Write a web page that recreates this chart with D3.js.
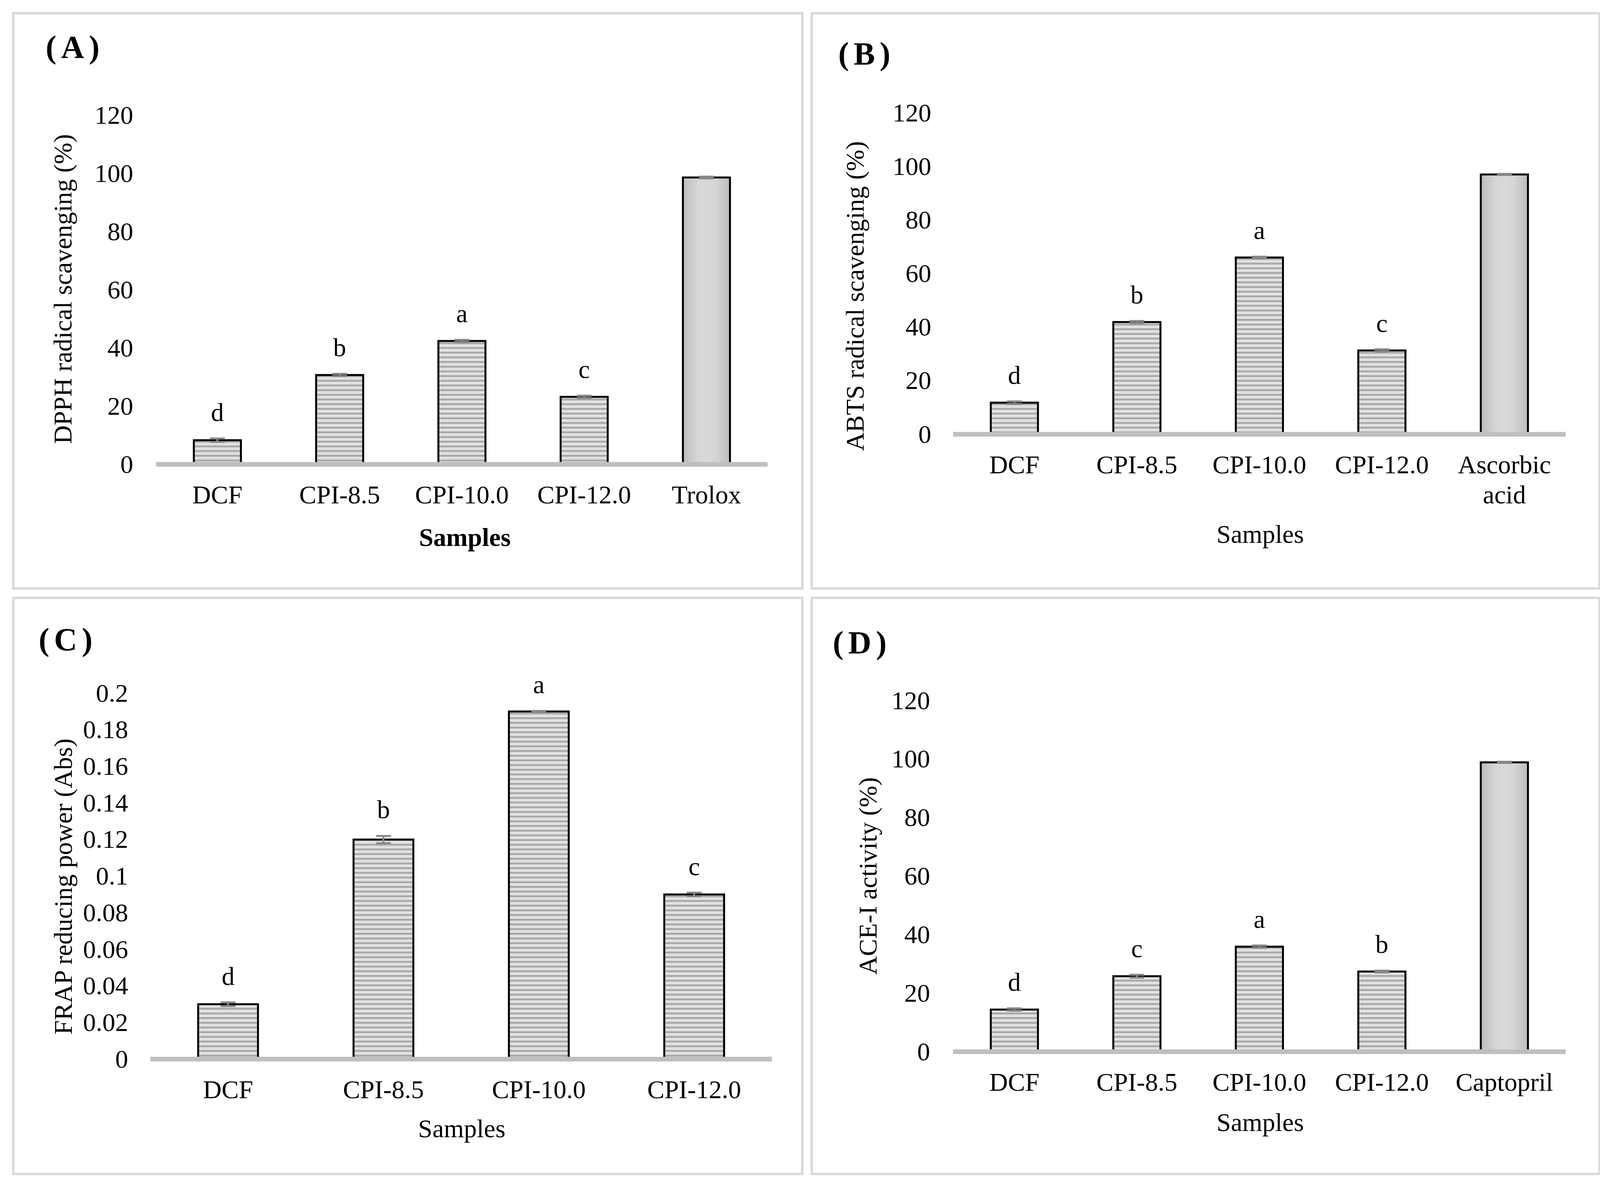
<!DOCTYPE html>
<html>
<head>
<meta charset="utf-8">
<script src="https://cdn.jsdelivr.net/npm/d3@7"></script>
<style>
  body { margin: 0; background: #fff; }
  text { font-family: "Liberation Serif", "Times New Roman", serif; fill: #000; }
</style>
</head>
<body>
<svg id="fig" width="4124" height="3042"></svg>
<script>
// ---- data ----
const samples5A = ["DCF", "CPI-8.5", "CPI-10.0", "CPI-12.0", "Trolox"];
const samples5B = ["DCF", "CPI-8.5", "CPI-10.0", "CPI-12.0", "Ascorbic acid"];
const samples4C = ["DCF", "CPI-8.5", "CPI-10.0", "CPI-12.0"];
const samples5D = ["DCF", "CPI-8.5", "CPI-10.0", "CPI-12.0", "Captopril"];
const standards = ["Trolox", "Ascorbic acid", "Captopril"];

const dpphValues = [8.3, 30.7, 42.4, 23.2, 98.6];
const dpphErrors = [0.6, 0.4, 0.4, 0.4, 0.3];
const dpphLetters = ["d", "b", "a", "c", ""];

const abtsValues = [11.8, 41.9, 66.0, 31.3, 97.0];
const abtsErrors = [0.5, 0.4, 0.3, 0.4, 0.2];
const abtsLetters = ["d", "b", "a", "c", ""];

const frapValues = [0.030, 0.120, 0.190, 0.090];
const frapErrors = [0.001, 0.002, 0.0003, 0.001];
const frapLetters = ["d", "b", "a", "c"];

const aceValues = [14.4, 25.8, 35.9, 27.4, 98.9];
const aceErrors = [0.4, 0.5, 0.4, 0.3, 0.2];
const aceLetters = ["d", "c", "a", "b", ""];

const pctTicks = [0, 20, 40, 60, 80, 100, 120];
const frapTicks = [0, 0.02, 0.04, 0.06, 0.08, 0.1, 0.12, 0.14, 0.16, 0.18, 0.2];

// ---- layout ----
const FS = 66;
const panels = [
  { tag: "(A)", cats: samples5A, vals: dpphValues, errs: dpphErrors, letters: dpphLetters,
    ticks: pctTicks, yTitle: "DPPH radical scavenging (%)", boldX: true,
    box: [34, 34, 2020, 1473], tagPos: [117, 148], xr: [400, 1965], yr: [1189, 295],
    pad: 59, yTitlePos: [183, 740], xTitlePos: [1190, 1398] },
  { tag: "(B)", cats: samples5B, vals: abtsValues, errs: abtsErrors, letters: abtsLetters,
    ticks: pctTicks, yTitle: "ABTS radical scavenging (%)", boldX: false,
    box: [2078, 34, 2017, 1473], tagPos: [2146, 165], xr: [2440, 4008], yr: [1112, 289],
    pad: 56, yTitlePos: [2211, 758], xTitlePos: [3226, 1390] },
  { tag: "(C)", cats: samples4C, vals: frapValues, errs: frapErrors, letters: frapLetters,
    ticks: frapTicks, yTitle: "FRAP reducing power (Abs)", boldX: false,
    box: [34, 1531, 2020, 1475], tagPos: [99, 1665], xr: [385, 1976], yr: [2712, 1775],
    pad: 57, yTitlePos: [184, 2270], xTitlePos: [1182, 2912] },
  { tag: "(D)", cats: samples5D, vals: aceValues, errs: aceErrors, letters: aceLetters,
    ticks: pctTicks, yTitle: "ACE-I activity (%)", boldX: false,
    box: [2078, 1531, 2017, 1475], tagPos: [2132, 1673], xr: [2440, 4008], yr: [2693, 1794],
    pad: 59, yTitlePos: [2244, 2243], xTitlePos: [3226, 2896] }
];

const svg = d3.select("#fig");
svg.append("rect").attr("width", 4124).attr("height", 3042).attr("fill", "#fff");
const defs = svg.append("defs");

// narrow horizontal stripe fill
const pat = defs.append("pattern").attr("id", "stripes")
  .attr("patternUnits", "userSpaceOnUse").attr("width", 12).attr("height", 12);
pat.append("rect").attr("width", 12).attr("height", 12).attr("fill", "#e2e2e2");
pat.append("rect").attr("y", 0).attr("width", 12).attr("height", 1).attr("fill", "#c6c6c6");
pat.append("rect").attr("y", 1).attr("width", 12).attr("height", 4).attr("fill", "#a9a9a9");
pat.append("rect").attr("y", 5).attr("width", 12).attr("height", 1).attr("fill", "#c6c6c6");

// shaded solid fill for standards
const grad = defs.append("linearGradient").attr("id", "solid")
  .attr("x1", 0).attr("x2", 1).attr("y1", 0).attr("y2", 0);
[["0%", "#bcbcbc"], ["30%", "#d5d5d5"], ["50%", "#d9d9d9"], ["70%", "#d5d5d5"], ["100%", "#bcbcbc"]]
  .forEach(([o, c]) => grad.append("stop").attr("offset", o).attr("stop-color", c));

panels.forEach(p => {
  const g = svg.append("g");

  // panel frame
  g.append("rect")
    .attr("x", p.box[0]).attr("y", p.box[1]).attr("width", p.box[2]).attr("height", p.box[3])
    .attr("fill", "none").attr("stroke", "#d9d9d9").attr("stroke-width", 6);

  g.append("text")
    .attr("x", p.tagPos[0]).attr("y", p.tagPos[1])
    .attr("font-size", 82).attr("font-weight", "bold").attr("letter-spacing", 12)
    .text(p.tag);

  const x = d3.scaleBand().domain(p.cats).range(p.xr).paddingInner(0.615).paddingOuter(0.3075);
  const y = d3.scaleLinear().domain([0, d3.max(p.ticks)]).range(p.yr);

  // y axis
  const ya = g.append("g").attr("transform", `translate(${p.xr[0]},0)`)
    .call(d3.axisLeft(y).tickValues(p.ticks).tickSize(0).tickPadding(p.pad).tickFormat(d => String(d)));
  ya.select(".domain").remove();
  ya.attr("font-size", FS).attr("font-family", null);

  // x axis
  const xa = g.append("g").attr("transform", `translate(0,${p.yr[0]})`)
    .call(d3.axisBottom(x).tickSize(0).tickPadding(53));
  xa.select(".domain").remove();
  xa.attr("font-size", FS).attr("font-family", null);
  xa.selectAll(".tick text").each(function (d) {
    const words = d.split(" ");
    if (words.length < 2) return;
    const t = d3.select(this).text(null);
    words.forEach((w, i) => t.append("tspan").attr("x", 0).attr("dy", i === 0 ? "0.71em" : 77).text(w));
  });

  // bars
  const data = p.cats.map((c, i) => ({ c, v: p.vals[i], e: p.errs[i], l: p.letters[i] }));
  g.selectAll(".bar").data(data).enter().append("rect")
    .attr("class", "bar")
    .attr("x", d => x(d.c))
    .attr("width", x.bandwidth())
    .attr("y", d => y(d.v))
    .attr("height", d => y(0) - y(d.v))
    .attr("fill", d => standards.includes(d.c) ? "url(#solid)" : "url(#stripes)")
    .attr("stroke", "#000").attr("stroke-width", 5);

  // error bars
  const eb = g.selectAll(".err").data(data).enter().append("g").attr("class", "err")
    .attr("stroke", "#878787").attr("stroke-width", 5);
  const cx = d => x(d.c) + x.bandwidth() / 2;
  eb.append("line").attr("x1", cx).attr("x2", cx)
    .attr("y1", d => y(d.v - d.e)).attr("y2", d => y(d.v + d.e));
  [-1, 1].forEach(s => {
    eb.append("line")
      .attr("x1", d => cx(d) - 19).attr("x2", d => cx(d) + 19)
      .attr("y1", d => y(d.v + s * d.e)).attr("y2", d => y(d.v + s * d.e));
  });

  // baseline
  g.append("line")
    .attr("x1", p.xr[0]).attr("x2", p.xr[1]).attr("y1", y(0)).attr("y2", y(0))
    .attr("stroke", "#bfbfbf").attr("stroke-width", 12);

  // significance letters
  g.selectAll(".sig").data(data.filter(d => d.l)).enter().append("text")
    .attr("class", "sig")
    .attr("x", cx)
    .attr("y", d => y(d.v + d.e) - 45)
    .attr("text-anchor", "middle").attr("font-size", FS)
    .text(d => d.l);

  // axis titles
  g.append("text")
    .attr("transform", `translate(${p.yTitlePos[0]},${p.yTitlePos[1]}) rotate(-90)`)
    .attr("text-anchor", "middle").attr("font-size", FS)
    .text(p.yTitle);

  g.append("text")
    .attr("x", p.xTitlePos[0]).attr("y", p.xTitlePos[1])
    .attr("text-anchor", "middle").attr("font-size", FS)
    .attr("font-weight", p.boldX ? "bold" : "normal")
    .text("Samples");
});
</script>
</body>
</html>
